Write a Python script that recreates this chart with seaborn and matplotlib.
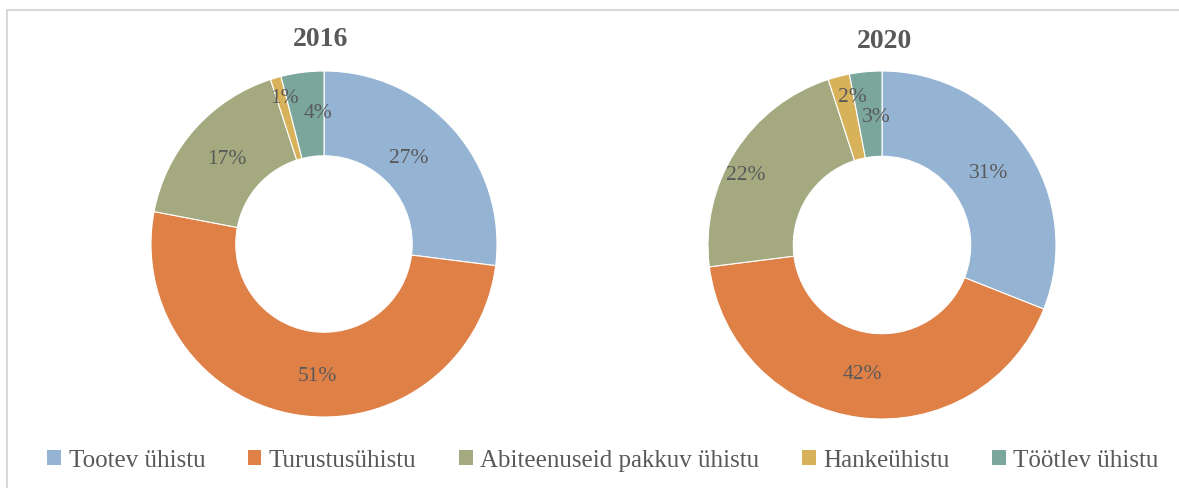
import matplotlib
matplotlib.use("Agg")
import matplotlib.pyplot as plt
import seaborn as sns
import numpy as np
from matplotlib.patches import Rectangle, Patch

sns.set_theme(style="white")
plt.rcParams['font.family'] = ['Liberation Serif', 'DejaVu Serif']

categories = ["Tootev ühistu", "Turustusühistu", "Abiteenuseid pakkuv ühistu", "Hankeühistu", "Töötlev ühistu"]
values_2016 = [27, 51, 17, 1, 4]
values_2020 = [31, 42, 22, 2, 3]
years = ["2016", "2020"]
colors = ["#95B4D4", "#DF8047", "#A4A97F", "#D8B25A", "#7AA69B"]
text_color = "#595959"

W, H = 1179, 489
fig = plt.figure(figsize=(W / 100, H / 100), dpi=100)

# border (top and left visible)
fig.patches.append(Rectangle((7 / W, -0.1), 1.2, (H - 11) / H + 0.1, transform=fig.transFigure,
                             fill=False, edgecolor="#D9D9D9", linewidth=1.5))

# label placement style: (radius factor, angle offset in degrees) per slice
label_style_2016 = [(0.70, 4), (0.76, 6), (0.75, 0), (0.88, -1), (0.76, -4.5)]
label_style_2020 = [(0.74, 0), (0.75, -1.5), (0.88, 5), (0.87, -3), (0.74, -2.7)]

specs = [
    (values_2016, years[0], (324, 245, 173), (321, 40), label_style_2016),
    (values_2020, years[1], (882, 246, 174), (885, 42), label_style_2020),
]
for vals, yr, (cx, cy, r), (tx, ty), lstyle in specs:
    ax = fig.add_axes([(cx - r) / W, (H - cy - r) / H, 2 * r / W, 2 * r / H])
    wedges, _ = ax.pie(vals, colors=colors, startangle=90, counterclock=False, radius=1,
                       wedgeprops=dict(width=0.49, edgecolor="white", linewidth=0.8))
    for w, v, (rf, da) in zip(wedges, vals, lstyle):
        mid = (w.theta1 + w.theta2) / 2 + da
        ang = np.deg2rad(mid)
        ax.text(rf * np.cos(ang), rf * np.sin(ang), f"{v}%", ha="center", va="center",
                fontsize=15.5, color=text_color)
    ax.set_xlim(-1, 1)
    ax.set_ylim(-1, 1)
    ax.set_aspect("equal")
    ax.axis("off")
    fig.text(tx / W, 1 - ty / H, yr, ha="center", va="center", fontsize=20, fontweight="bold",
             color=text_color)

handles = [Patch(facecolor=c, edgecolor="none") for c in colors]
fig.legend(handles, categories, loc="center", bbox_to_anchor=(603 / W, 1 - 461 / H), ncol=5,
           frameon=False, fontsize=18, labelcolor=text_color, handlelength=0.55, handleheight=0.55,
           handletextpad=0.3, columnspacing=1.7)

fig.savefig("out.png", dpi=100)
